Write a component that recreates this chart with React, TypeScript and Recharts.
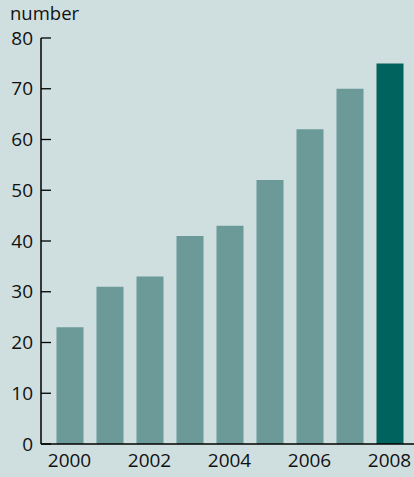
import React from 'react';
import { BarChart, Bar, XAxis, YAxis, Cell, Label } from 'recharts';

const years = ['2000', '2001', '2002', '2003', '2004', '2005', '2006', '2007', '2008'];
const counts = [23, 31, 33, 41, 43, 52, 62, 70, 75];
const yTicks = [0, 10, 20, 30, 40, 50, 60, 70, 80];

const data = years.map((year, i) => ({ year, count: counts[i] }));

const BG = '#cfdfdf';
const BAR = '#6b9a98';
const BAR_LAST = '#00635e';
const FONT = '"Open Sans", sans-serif';
const FS = 19;

const YTick = (props: any) => {
  const { x, y, payload } = props;
  return (
    <g>
      <line x1={x + 8} y1={y} x2={x + 18} y2={y} stroke="#000" strokeWidth={1.3} />
      <text x={x} y={y} dy={6.5} textAnchor="end" fontSize={FS} fontFamily={FONT} fill="#111">
        {payload.value}
      </text>
    </g>
  );
};

export default function App() {
  return (
    <div style={{ position: 'absolute', left: 0, top: 0, width: 414, height: 477, background: BG }}>
      <BarChart
        width={414}
        height={477}
        data={data}
        margin={{ top: 38, right: 0, bottom: 0, left: 0 }}
        barSize={27}
      >
        <XAxis
          dataKey="year"
          interval={1}
          tickLine={false}
          axisLine={{ stroke: '#000', strokeWidth: 1.5 }}
          padding={{ left: 8.5, right: 4.5 }}
          tick={{ fontSize: FS, fontFamily: FONT, fill: '#111' }}
          tickSize={10}
          tickMargin={0}
          height={33}
        />
        <YAxis
          width={41}
          domain={[0, 80]}
          ticks={yTicks}
          interval={0}
          tickLine={false}
          tickSize={0}
          tickMargin={8}
          axisLine={{ stroke: '#000', strokeWidth: 1.5 }}
          tick={<YTick />}
        >
          <Label
            content={() => (
              <text x={10} y={20} fontSize={18.5} fontFamily={FONT} fill="#111">
                number
              </text>
            )}
          />
        </YAxis>
        <Bar dataKey="count" isAnimationActive={false}>
          {data.map((d, i) => (
            <Cell key={d.year} fill={i === data.length - 1 ? BAR_LAST : BAR} />
          ))}
        </Bar>
      </BarChart>
    </div>
  );
}
